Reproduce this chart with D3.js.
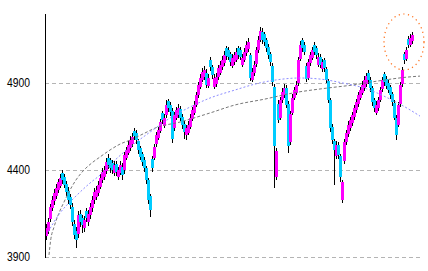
<!DOCTYPE html>
<html>
<head>
<meta charset="utf-8">
<script src="https://cdn.jsdelivr.net/npm/d3@7"></script>
<style>
  html, body { margin: 0; padding: 0; background: #fff; }
  svg { display: block; }
</style>
</head>
<body>
<div class="chart"></div>
<script>
// daily candles
const opens = [
  4020,4050,4120,4180,4220,4250,4285,4310,4385,4360,
  4320,4280,4245,4190,4090,4050,4030,4150,4125,4065,
  4165,4100,4140,4180,4225,4245,4270,4305,4340,4360,
  4395,4470,4455,4440,4385,4435,4360,4385,4420,4400,
  4470,4500,4525,4550,4625,4615,4565,4525,4490,4460,
  4410,4340,4250,4465,4470,4550,4585,4625,4725,4655,
  4715,4795,4775,4740,4640,4700,4715,4750,4705,4665,
  4600,4615,4650,4695,4730,4775,4830,4880,4920,4935,
  4960,4885,5035,4990,4880,4895,4935,4960,4990,5015,
  5100,5090,5065,5000,5020,5035,5100,5090,5005,5035,
  5070,5095,5060,4920,4955,5010,5090,5150,5195,5180,
  5145,5110,5065,5000,4880,4360,4780,4700,4800,4830,
  4870,4780,4560,4730,4815,4845,4900,5040,5145,5120,
  5000,4930,5015,5045,5120,5100,5005,5050,4980,5030,
  4980,4910,4800,4650,4565,4480,4545,4480,4230,4450,
  4560,4605,4640,4670,4705,4745,4780,4815,4845,4870,
  4895,4960,4920,4870,4800,4730,4755,4805,4865,4950,
  4925,4900,4875,4835,4785,4700,4660,4780,4895,5065,
  5040,5155,5120,5140
];
const closes = [
  4067,4101,4187,4228,4268,4296,4331,4354,4343,4314,
  4274,4228,4199,4101,4027,3997,4141,4101,4084,4113,
  4124,4147,4187,4228,4274,4285,4314,4354,4389,4400,
  4446,4429,4412,4400,4429,4389,4400,4429,4371,4486,
  4515,4544,4572,4590,4595,4572,4515,4475,4446,4412,
  4343,4228,4170,4410,4532,4601,4630,4676,4687,4699,
  4774,4756,4733,4580,4716,4745,4756,4699,4659,4618,
  4641,4659,4699,4745,4774,4831,4889,4929,4963,4975,
  4889,4929,4990,4946,4930,4935,4986,5003,5032,5061,
  5055,5049,5021,5044,5061,5078,5061,5049,5044,5078,
  5118,5136,4930,4965,5003,5090,5147,5200,5147,5136,
  5101,5061,5021,4906,4540,4510,4690,4800,4848,4871,
  4774,4540,4720,4814,4860,4889,5032,5118,5100,5080,
  4925,5021,5061,5090,5078,5061,5050,5003,5021,4986,
  4917,4802,4641,4572,4515,4544,4486,4360,4330,4560,
  4610,4659,4687,4716,4756,4791,4831,4860,4889,4917,
  4940,4917,4871,4790,4756,4774,4802,4860,4917,4906,
  4883,4860,4831,4791,4700,4600,4774,4889,4975,5030,
  5090,5120,5160,5175
];
const highs = [
  4090,4125,4205,4250,4290,4320,4350,4375,4400,4375,
  4335,4300,4265,4210,4110,4070,4165,4170,4140,4135,
  4180,4170,4210,4250,4295,4310,4335,4375,4410,4425,
  4470,4490,4470,4455,4450,4450,4420,4450,4440,4505,
  4535,4565,4595,4612,4640,4630,4580,4540,4505,4475,
  4425,4355,4265,4480,4550,4620,4650,4695,4740,4720,
  4800,4810,4790,4755,4735,4765,4780,4770,4720,4680,
  4660,4680,4720,4765,4795,4850,4905,4950,4985,5000,
  4980,4950,5050,5005,4950,4955,5005,5025,5055,5085,
  5115,5105,5080,5065,5080,5100,5115,5105,5065,5100,
  5140,5160,5075,4985,5025,5110,5170,5222,5215,5195,
  5160,5125,5080,5015,4895,4525,4800,4820,4870,4895,
  4890,4795,4740,4835,4880,4910,5050,5140,5160,5135,
  5015,5040,5080,5110,5135,5115,5070,5065,5040,5045,
  4995,4925,4815,4665,4580,4565,4560,4495,4345,4580,
  4630,4680,4705,4735,4775,4810,4850,4880,4910,4940,
  4960,4975,4935,4885,4815,4795,4820,4880,4935,4965,
  4940,4915,4890,4850,4800,4715,4790,4905,4995,5080,
  5110,5170,5180,5195
];
const lows = [
  4000,4035,4100,4165,4200,4235,4270,4295,4320,4295,
  4250,4205,4175,4080,4005,3950,4010,4075,4040,4045,
  4100,4080,4120,4160,4205,4225,4250,4290,4325,4340,
  4380,4405,4385,4375,4365,4365,4340,4370,4345,4380,
  4455,4485,4510,4535,4575,4550,4495,4455,4425,4390,
  4320,4205,4130,4390,4455,4535,4570,4610,4665,4640,
  4700,4735,4710,4555,4625,4685,4700,4680,4635,4580,
  4575,4600,4635,4680,4715,4760,4815,4865,4905,4920,
  4870,4870,4970,4925,4865,4880,4920,4945,4975,5000,
  5035,5030,5000,4985,5005,5020,5040,5030,4990,5020,
  5055,5080,4910,4905,4940,4995,5075,5135,5125,5115,
  5080,5040,5000,4885,4296,4340,4670,4685,4785,4815,
  4755,4498,4545,4715,4800,4830,4885,5025,5080,5060,
  4905,4915,5000,5030,5060,5040,4990,4985,4965,4965,
  4900,4785,4620,4550,4314,4465,4465,4330,4210,4435,
  4545,4590,4625,4655,4690,4730,4765,4800,4830,4855,
  4880,4895,4850,4770,4735,4715,4740,4790,4850,4885,
  4865,4840,4810,4770,4685,4572,4645,4765,4880,5010,
  5025,5100,5105,5125
];

// trend curves as [candle index, price]
const trendGray = [
  [1.5,3912],[2.35,3998],[4,4072],[6.5,4153],[9,4216],[11.5,4274],[15,4343],
  [19,4400],[22.85,4440],[27,4475],[32,4515],[37,4549],[42,4572],[49.5,4613],
  [54.5,4641],[67,4676],[82,4728],[94.5,4774],[109.5,4808],[123.5,4843],
  [140.5,4871],[153.5,4889],[165.5,4911],[180.5,4934],[187,4940]
];
const trendBlue = [
  [1,4044],[7,4153],[14,4239],[22,4325],[27,4371],[34.5,4457],[42,4532],
  [52,4618],[62,4699],[72,4762],[82,4814],[94.5,4860],[104.5,4894],
  [114.5,4917],[127,4929],[137,4923],[148.5,4900],[160.5,4866],
  [172,4808],[180.5,4756],[187,4710]
];

const yTicks = [3900, 4400, 4900];
const highlight = { index: 179, price: 5136 };

const width = 428, height = 271;
const plotLeft = 45, plotRight = 420, plotTop = 14, plotBottom = 257;

const svg = d3.select(".chart").append("svg")
  .attr("width", width).attr("height", height)
  .style("background", "#fff");

const x = d3.scaleLinear().domain([0, closes.length - 1]).range([46, 412]);
const y = d3.scaleLinear().domain([3900, 5297]).range([plotBottom, plotTop]);

// grid
svg.append("g").selectAll("line").data(yTicks).join("line")
  .attr("x1", plotLeft).attr("x2", plotRight)
  .attr("y1", d => Math.round(y(d)) + 0.5).attr("y2", d => Math.round(y(d)) + 0.5)
  .attr("stroke", "#b4b4b4").attr("stroke-dasharray", "4,3");

// candles: wick under a 3px body, neighbours overlap by one pixel
const candles = svg.append("g");
closes.forEach((c, i) => {
  const o = opens[i];
  const cx = Math.round(x(i));
  const top = Math.round(y(Math.max(o, c)));
  const bot = Math.round(y(Math.min(o, c)));
  candles.append("rect")
    .attr("x", cx).attr("width", 1)
    .attr("y", Math.round(y(highs[i])))
    .attr("height", Math.max(1, Math.round(y(lows[i])) - Math.round(y(highs[i]))))
    .attr("fill", "#000");
  candles.append("rect")
    .attr("x", cx - 1).attr("width", 3)
    .attr("y", top).attr("height", Math.max(1, bot - top))
    .attr("fill", c >= o ? "#ff00ff" : "#00ccff");
});

// trend lines
const line = d3.line().x(d => x(d[0])).y(d => y(d[1])).curve(d3.curveMonotoneX);
svg.append("path").datum(trendGray).attr("d", line)
  .attr("fill", "none").attr("stroke", "#777").attr("stroke-width", 1)
  .attr("stroke-dasharray", "3,2");
svg.append("path").datum(trendBlue).attr("d", line)
  .attr("fill", "none").attr("stroke", "#8c8cff").attr("stroke-width", 1)
  .attr("stroke-dasharray", "2,2");

// highlight ring
svg.append("ellipse")
  .attr("cx", x(highlight.index)).attr("cy", y(highlight.price))
  .attr("rx", 20).attr("ry", 28)
  .attr("fill", "none").attr("stroke", "#ff6a10").attr("stroke-width", 1.2)
  .attr("stroke-dasharray", "1.2,3.5");

// axis
svg.append("line")
  .attr("x1", plotLeft + 0.5).attr("x2", plotLeft + 0.5)
  .attr("y1", plotTop).attr("y2", plotBottom + 1)
  .attr("stroke", "#000");

svg.append("g").selectAll("text").data(yTicks).join("text")
  .attr("x", 30).attr("y", d => y(d))
  .attr("text-anchor", "end").attr("dominant-baseline", "central")
  .attr("textLength", 23).attr("lengthAdjust", "spacingAndGlyphs")
  .style("font-family", "'Liberation Sans', Arial, sans-serif")
  .style("font-size", "12px").attr("fill", "#000")
  .text(d => d);
</script>
</body>
</html>
